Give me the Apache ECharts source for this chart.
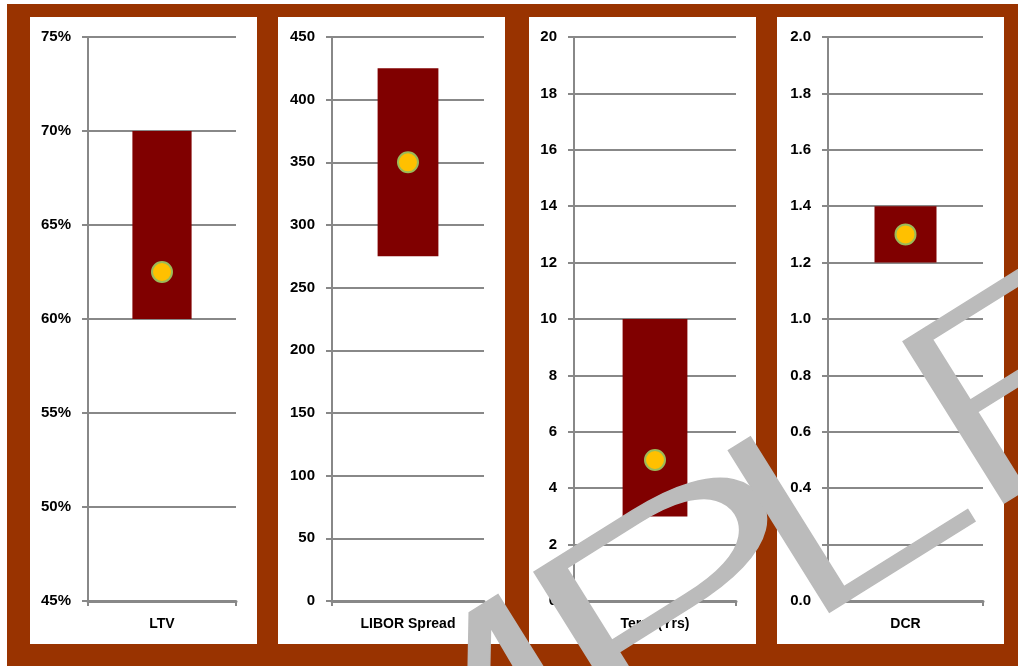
<!DOCTYPE html>
<html>
<head>
<meta charset="utf-8">
<script src="https://cdn.jsdelivr.net/npm/echarts@6/dist/echarts.min.js"></script>
<style>
  html, body { margin: 0; padding: 0; background: #ffffff; }
  #chart { width: 1018px; height: 666px; }
</style>
</head>
<body>
<div id="chart"></div>
<script>
// Loan underwriting ranges: each metric has a low/high band and a point estimate.
const metrics = ['LTV', 'LIBOR Spread', 'Term (Yrs)', 'DCR'];
const lows    = [60, 275, 3, 1.2];
const highs   = [70, 425, 10, 1.4];
const points  = [62.5, 350, 5, 1.3];

// Value axis for each metric
const axisMin  = [45, 0, 0, 0];
const axisMax  = [75, 450, 20, 2];
const axisStep = [5, 50, 2, 0.2];
const axisFormat = [
  v => v + '%',
  v => String(v),
  v => String(v),
  v => v.toFixed(1)
];

const watermarkText = 'SAMPLE';

// ---- layout ----
const panelX = [30, 278, 529, 777];
const panelW = 227;
const plotLeft  = [88, 332, 574, 828];
const plotRight = [236, 484, 736, 983];
const W = 1018, H = 666;

const labelFont = '"Liberation Sans", Arial, sans-serif';
const gridColor = '#888888';

const grids = [], xAxes = [], yAxes = [], series = [];
metrics.forEach((name, i) => {
  grids.push({ left: plotLeft[i], right: W - plotRight[i], top: 37, bottom: 65 });
  xAxes.push({
    type: 'category', gridIndex: i, data: [name],
    axisLine: { show: true, lineStyle: { color: gridColor, width: 3 } },
    axisTick: { show: true, length: 5, lineStyle: { color: gridColor, width: 2 } },
    axisLabel: { color: '#000', fontWeight: 'bold', fontSize: 14, fontFamily: labelFont, margin: 16 },
    splitLine: { show: false }
  });
  yAxes.push({
    type: 'value', gridIndex: i,
    min: axisMin[i], max: axisMax[i], interval: axisStep[i],
    axisLine: { show: true, lineStyle: { color: gridColor, width: 2 } },
    axisTick: { show: true, length: 6, lineStyle: { color: gridColor, width: 2 } },
    splitLine: { show: true, lineStyle: { color: gridColor, width: 2 } },
    axisLabel: {
      color: '#000', fontWeight: 'bold', fontSize: 15, fontFamily: labelFont,
      margin: 17, formatter: axisFormat[i]
    }
  });
  // invisible base so the band floats from low to high
  series.push({
    type: 'bar', xAxisIndex: i, yAxisIndex: i, stack: 'band' + i,
    data: [lows[i]], barWidth: '40%', silent: true,
    itemStyle: { color: 'rgba(0,0,0,0)' }
  });
  series.push({
    type: 'bar', xAxisIndex: i, yAxisIndex: i, stack: 'band' + i,
    data: [highs[i] - lows[i]], barWidth: '40%',
    itemStyle: { color: '#800000' }
  });
  series.push({
    type: 'scatter', xAxisIndex: i, yAxisIndex: i, z: 5,
    data: [points[i]], symbol: 'circle', symbolSize: 20,
    itemStyle: { color: '#FFC000', borderColor: '#9BBB59', borderWidth: 2, opacity: 1 }
  });
});

// ---- frame: brown board with four white cards ----
const frame = [{
  type: 'rect', z: -20, silent: true,
  shape: { x: 7, y: 4, width: W - 7, height: H - 4 },
  style: { fill: '#993300' }
}];
panelX.forEach(x => frame.push({
  type: 'rect', z: -10, silent: true,
  shape: { x: x, y: 17, width: panelW, height: 627 },
  style: { fill: '#ffffff' }
}));

// ---- diagonal watermark, one letter at a time along a slanted baseline ----
const wmAngle = 32 * Math.PI / 180;
const wmSize = 268;
const wmScaleX = 1.55;
const wmFoot = [823, 613];                          // left foot of the 'L'
const wmOffsets = [-1072, -812, -557, -230, 0, 206]; // left edge of each letter along the baseline
const wmStretch = [1, 1, 1, 1.15, 1, 1];             // extra width for the round-bowled letter
const dir  = [Math.cos(wmAngle), -Math.sin(wmAngle)];
const down = [Math.sin(wmAngle),  Math.cos(wmAngle)];
const lsb = 0.075, mid = 0.24;
const watermark = watermarkText.split('').map((ch, k) => {
  const sx = wmScaleX * wmStretch[k];
  const fx = wmFoot[0] + wmOffsets[k] * dir[0];
  const fy = wmFoot[1] + wmOffsets[k] * dir[1];
  const ax = fx - lsb * wmSize * sx * dir[0] - mid * wmSize * down[0];
  const ay = fy - lsb * wmSize * sx * dir[1] - mid * wmSize * down[1];
  return {
    type: 'text', z: 100, silent: true,
    x: ax, y: ay, rotation: wmAngle, scaleX: sx, scaleY: 1,
    style: {
      text: ch, fill: '#BBBBBB', stroke: '#BBBBBB', lineWidth: 1.5,
      font: '300 ' + wmSize + 'px Roboto, "Liberation Sans", sans-serif',
      textAlign: 'left', textVerticalAlign: 'middle'
    }
  };
});

const chart = echarts.init(document.getElementById('chart'), null, { renderer: 'canvas' });
chart.setOption({
  backgroundColor: '#ffffff',
  animation: false,
  grid: grids,
  xAxis: xAxes,
  yAxis: yAxes,
  series: series,
  graphic: { elements: frame.concat(watermark) }
});
</script>
</body>
</html>
